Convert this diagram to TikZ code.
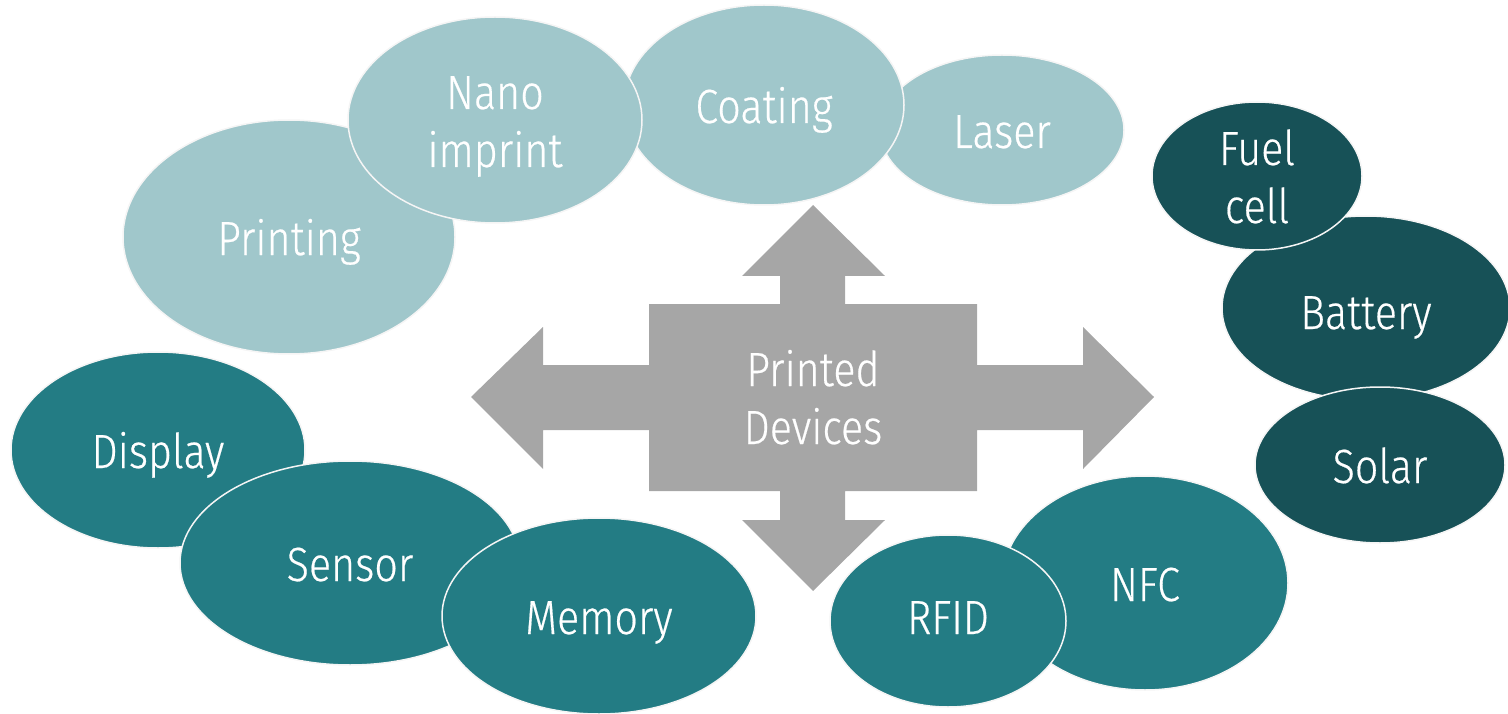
\documentclass[tikz,border=0pt]{standalone}
\usepackage{fontspec}
\setmainfont[FakeStretch=0.86, UprightFont={* Light}, UprightFeatures={FakeBold=0.4}]{Fira Sans}
\usetikzlibrary{shapes.geometric}
\definecolor{lightteal}{HTML}{A0C7CB}
\definecolor{midteal}{HTML}{237C84}
\definecolor{darkteal}{HTML}{175157}
\definecolor{hubgray}{HTML}{A6A6A6}
% two centred lines, baseline on the first one
\newcommand\twoline[2]{\begin{tabular}[t]{@{}c@{}}#1\\#2\end{tabular}}
\tikzset{
  blob/.style={ellipse, inner sep=0pt, draw=white!92!gray, line width=1.5pt,
    text=white, font=\fontsize{48}{58}\selectfont,
    text height=38pt, text depth=2pt},
  pair/.style={text height=32pt, text depth=54pt},
  tech/.style={blob, fill=lightteal},
  app/.style={blob, fill=midteal},
  power/.style={blob, fill=darkteal},
  sz/.style 2 args={minimum width=#1pt, minimum height=#2pt},
}
\begin{document}
\begin{tikzpicture}[x=1pt,y=-1pt]
\useasboundingbox (0,0) rectangle (1508,714);

% four-way arrow in the centre
\fill[hubgray] (813,205) -- (885,276) -- (845,276) -- (845,304) -- (977,304)
  -- (977,365) -- (1083,365) -- (1083,327) -- (1154,397) -- (1083,469)
  -- (1083,430) -- (977,430) -- (977,491) -- (845,491) -- (845,520)
  -- (885,520) -- (813,591) -- (742,520) -- (780,520) -- (780,491)
  -- (649,491) -- (649,430) -- (543,430) -- (543,469) -- (471,397)
  -- (543,327) -- (543,365) -- (649,365) -- (649,304) -- (780,304)
  -- (780,276) -- (742,276) -- cycle;
\node[inner sep=0pt, text=white, font=\fontsize{48}{58}\selectfont, pair]
  (hub) at (813,397) {\twoline{Printed}{Devices}};

% fabrication technologies
\node[tech, sz={332}{234}] (printing) at (289,237) {Printing};
\node[tech, sz={244}{150}] (laser) at (1002,130) {Laser};
\node[tech, sz={280}{200}] (coating) at (764,105) {Coating};
\node[tech, pair, sz={294}{206}] (nano) at (495,120) {\twoline{Nano}{imprint}};

% energy
\node[power, sz={288}{184}, text height=42pt, text depth=0pt] (battery) at (1366,308) {Battery};
\node[power, sz={250}{156}] (solar) at (1380,465) {Solar};
\node[power, pair, sz={210}{148}] (fuel) at (1257,176) {\twoline{Fuel}{cell}};

% communication
\node[app, sz={286}{214}] (nfc) at (1145,583) {NFC};
\node[app, sz={236}{172}, text height=30pt, text depth=4pt] (rfid) at (948,621) {RFID};

% applications
\node[app, sz={294}{196}] (display) at (158,450) {Display};
\node[app, sz={340}{204}] (sensor) at (350,563) {Sensor};
\node[app, sz={314}{196}] (memory) at (599,616) {Memory};
\end{tikzpicture}
\end{document}
